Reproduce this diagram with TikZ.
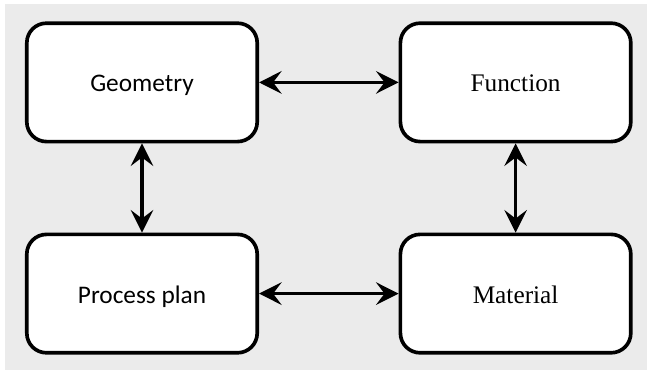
\documentclass[tikz,border=0pt]{standalone}
\usepackage{fontspec}
\setmainfont{Liberation Serif}
\newfontfamily\calib{Carlito}
\usetikzlibrary{arrows.meta}
\definecolor{bggray}{HTML}{EBEBEB}

\begin{document}
\begin{tikzpicture}[box/.style={rectangle, rounded corners=14pt, draw, line width=2.6pt, fill=white, minimum width=5.76cm, minimum height=2.96cm, text height=15pt, text depth=1.5pt, font=\fontsize{18}{20}\selectfont},
  link/.style={line width=2.4pt, {Stealth[length=16pt,width=16pt,inset=6pt]}-{Stealth[length=16pt,width=16pt,inset=6pt]}}]

\useasboundingbox (0,0) rectangle (16.175,-9.25);
\fill [bggray] (0.125,-0.1) rectangle (16.175,-9.25);

\node (geo) at (3.55,-2.06) [box]{\calib Geometry};
\node (fun) at (12.89,-2.06) [box]{Function};

\node (proc) at (3.55,-7.34) [box]{\calib Process plan};
\node (mat) at (12.89,-7.34) [box]{Material};

\draw [link] (geo) to (fun);
\draw [link] (proc) to (mat);

\draw [link] (geo) to (proc);
\draw [link] (fun) to (mat);

\end{tikzpicture}
\end{document}
